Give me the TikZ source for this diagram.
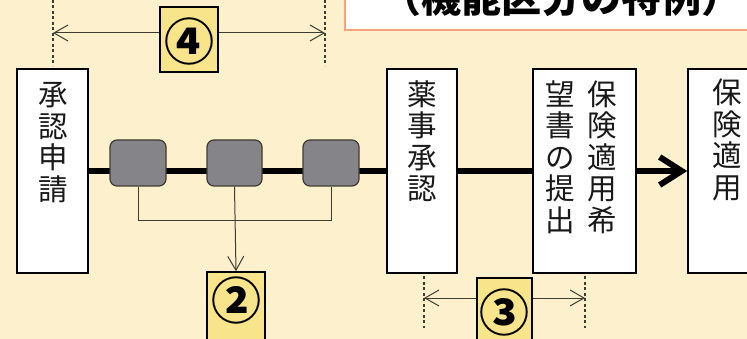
\documentclass[tikz,border=0pt]{standalone}
\usepackage{fontspec}
\setmainfont{Noto Sans CJK JP}
\usetikzlibrary{arrows.meta,backgrounds}
\definecolor{bgc}{HTML}{FCF0CD}
\definecolor{yel}{HTML}{F8E48A}
\definecolor{grayfill}{HTML}{848489}
\definecolor{grayborder}{HTML}{3F3A30}
\definecolor{salmon}{HTML}{F3A47E}
\definecolor{thinc}{HTML}{3C3C30}
\begin{document}
\begin{tikzpicture}[x=1pt,y=-1pt,
  stagebox/.style={draw=black,line width=1.5pt,fill=white,minimum height=204pt,inner sep=0pt},
  vtext/.style={font=\fontsize{29.5}{31.5}\selectfont,align=center,inner sep=0pt,text=black!90},
  gbox/.style={draw=grayborder,fill=grayfill,rounded corners=7pt,line width=1.2pt,minimum width=56pt,minimum height=46pt,inner sep=0pt},
  ybox/.style={draw=black,line width=1.5pt,fill=yel,inner sep=0pt},
  numtext/.style={font=\fontsize{50}{50}\selectfont\bfseries,inner sep=0pt},
  mainline/.style={line width=6pt,black},
  thinline/.style={line width=1pt,thinc},
  guide/.style={line width=1.2pt,thinc,dash pattern=on 3pt off 2.5pt}
]
\useasboundingbox (0,0) rectangle (747,339);
\clip (0,0) rectangle (747,339);

% title box (cut off at top)
\node[draw=salmon,fill=white,line width=2.5pt,minimum width=435pt,minimum height=90pt,inner sep=0pt] (titlebox) at (562.5,-15) {};
\node[font=\fontsize{40}{40}\selectfont\bfseries,inner sep=0pt] (title) at (561,-3) {（機能区分の特例）};

% stage boxes
\node[stagebox,minimum width=71pt] (shinsei) at (52.5,171) {};
\node[vtext] (shinseit) at (53,142.5) {承\\認\\申\\請};
\node[stagebox,minimum width=70pt] (yakuji) at (422,171) {};
\node[vtext] (yakujit) at (422,141) {薬\\事\\承\\認};
\node[stagebox,minimum width=103pt] (kibou) at (584.5,171) {};
\node[vtext] (kiboua) at (602,157) {保\\険\\適\\用\\希};
\node[vtext] (kiboub) at (560,157) {望\\書\\の\\提\\出};
\node[stagebox,minimum width=92pt] (tekiyo) at (734,171) {};
\node[vtext] (tekiyot) at (727,140) {保\\険\\適\\用};

% gray review boxes
\node[gbox] (g1) at (138,163) {};
\node[gbox,minimum width=55pt] (g2) at (234.5,163) {};
\node[gbox] (g3) at (331,163) {};

% background and main flow line behind gray boxes
\begin{pgfonlayer}{background}
\fill[bgc] (0,0) rectangle (747,339);
\draw[mainline] (shinsei.east) -- (yakuji.west);
\end{pgfonlayer}
\draw[mainline] (yakuji.east) -- (kibou.west);
\draw[mainline,-{Straight Barb[length=22pt,width=28pt,line width=6pt]}] (kibou.east) -- (tekiyo.west);

% yellow number boxes
\node[ybox,minimum width=58pt,minimum height=65pt] (box4) at (189,39.5) {};
\node[numtext] (n4) at (189,42) {④};
\node[ybox,minimum width=58pt,minimum height=73pt] (box2) at (236,308.5) {};
\node[numtext] (n2) at (236,300) {②};
\node[ybox,minimum width=55pt,minimum height=67pt] (box3) at (504.5,311.5) {};
\node[numtext] (n3) at (504.5,312) {③};

% bracket to ②
\draw[thinline] (g1.south) -- ++(0,34) coordinate (bl) -| (g3.south);
\draw[thinline,-{Straight Barb[length=14pt,width=16pt]}] (g2.south) -- (box2.north);

% dimension ④
\coordinate (d4lt) at (53,0);
\coordinate (d4lb) at (53,66);
\coordinate (d4rt) at (325,0);
\coordinate (d4rb) at (325,66);
\draw[guide] (d4lt) -- (d4lb);
\draw[guide] (d4rt) -- (d4rb);
\coordinate (a4l) at (53,33);
\coordinate (a4r) at (325,33);
\draw[thinline,-{Straight Barb[length=14pt,width=16pt]}] (box4.west |- a4l) -- (a4l);
\draw[thinline,-{Straight Barb[length=14pt,width=16pt]}] (box4.east |- a4r) -- (a4r);

% dimension ③
\coordinate (d3lt) at (424,276);
\coordinate (d3lb) at (424,328);
\coordinate (d3rt) at (585,276);
\coordinate (d3rb) at (585,328);
\draw[guide] (d3lt) -- (d3lb);
\draw[guide] (d3rt) -- (d3rb);
\coordinate (a3l) at (424,298);
\coordinate (a3r) at (585,298);
\draw[thinline,-{Straight Barb[length=14pt,width=16pt]}] (box3.west |- a3l) -- (a3l);
\draw[thinline,-{Straight Barb[length=14pt,width=16pt]}] (box3.east |- a3r) -- (a3r);
\end{tikzpicture}
\end{document}
